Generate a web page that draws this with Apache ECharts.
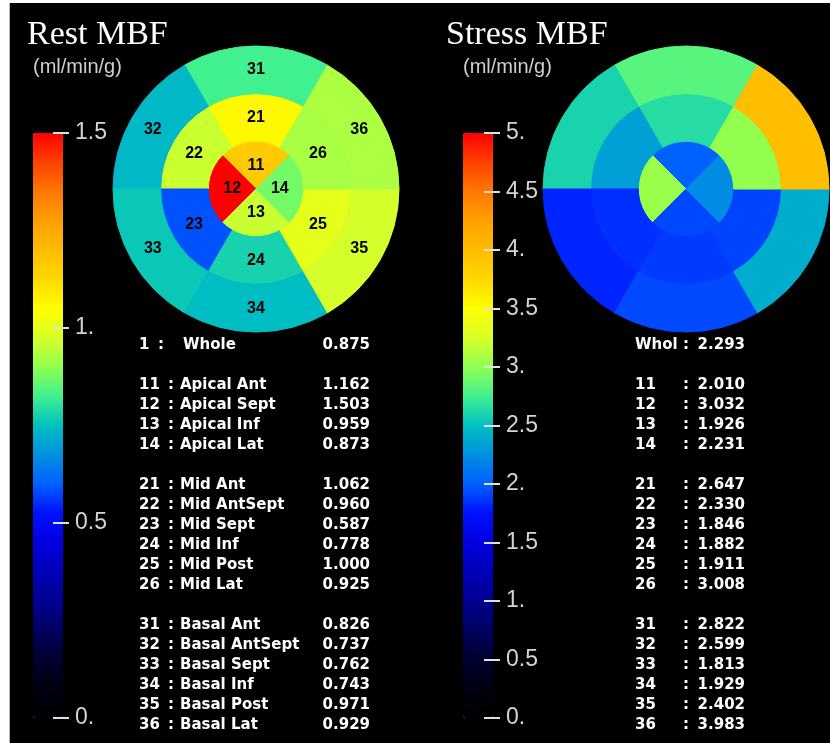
<!DOCTYPE html>
<html>
<head>
<meta charset="utf-8">
<script src="https://cdn.jsdelivr.net/npm/echarts@6/dist/echarts.min.js"></script>
<style>
  body { margin: 0; background: #fff; }
  #main { position: absolute; left: 9px; top: 3px; width: 820px; height: 740px; background: #000; border-left: 1px solid #bbb; }
</style>
</head>
<body>
<div id="main"></div>
<script>
// segment names, in id order (11-14, 21-26, 31-36)
var apicalNames = ['Ant', 'Sept', 'Inf', 'Lat'];
var ringNames = ['Ant', 'AntSept', 'Sept', 'Inf', 'Post', 'Lat'];
var apicalIds = ['11', '12', '13', '14'];
var midIds = ['21', '22', '23', '24', '25', '26'];
var basalIds = ['31', '32', '33', '34', '35', '36'];

// order of the segments round the bull's eye, clockwise
var apicalClockwise = ['Ant', 'Lat', 'Inf', 'Sept'];
var ringClockwise = ['Ant', 'Lat', 'Post', 'Inf', 'Sept', 'AntSept'];

// rest MBF (ml/min/g)
var restWhole = 0.875;
var restApical = [1.162, 1.503, 0.959, 0.873];
var restMid = [1.062, 0.960, 0.587, 0.778, 1.000, 0.925];
var restBasal = [0.826, 0.737, 0.762, 0.743, 0.971, 0.929];

// stress MBF (ml/min/g)
var stressWhole = 2.293;
var stressApical = [2.010, 3.032, 1.926, 2.231];
var stressMid = [2.647, 2.330, 1.846, 1.882, 1.911, 3.008];
var stressBasal = [2.822, 2.599, 1.813, 1.929, 2.402, 3.983];

// colour bar tick labels
var restTicks = ['0.', '0.5', '1.', '1.5'];
var stressTicks = ['0.', '0.5', '1.', '1.5', '2.', '2.5', '3.', '3.5', '4.', '4.5', '5.'];

// colour map, black -> blue -> cyan -> green -> yellow -> red
var colorMap = ['#000000', '#000010', '#000030', '#000060', '#000090', '#0000b8', '#0000e0',
  '#0010ff', '#0060ff', '#0090e0', '#00c0c0', '#40f090', '#90ff50', '#d8ff28', '#ffff00',
  '#ffd800', '#ffbc00', '#ffa000', '#ff7800', '#ff4000', '#ff0000'];

var myChart = echarts.init(document.getElementById('main'));

var restCenter = [246, 186];
var stressCenter = [676, 186];
var R = 143;

function polarAxes(polarIndex, cats, start) {
  return {
    angle: { polarIndex: polarIndex, type: 'category', data: cats, startAngle: start, clockwise: true, show: false },
    radius: { polarIndex: polarIndex, type: 'value', min: 0, max: 3, show: false }
  };
}

// max = top of the colour scale, used for the seam-hiding border colour
function ring(polarIndex, names, ids, values, stack, showLabel, max) {
  return {
    type: 'bar',
    coordinateSystem: 'polar',
    polarIndex: polarIndex,
    stack: stack,
    barCategoryGap: '0%',
    encode: { radius: 0, angle: 1 },
    data: values.map(function (v, i) {
      return {
        name: ids ? ids[i] : '',
        value: [1, names[i], v],
        itemStyle: { borderWidth: 1, borderColor: echarts.color.lerp(Math.min(v / max, 1), colorMap) }
      };
    }),
    label: {
      show: !!showLabel,
      position: 'middle',
      rotate: 0,
      formatter: '{b}',
      color: '#000',
      fontWeight: 'bold',
      fontSize: 16,
      fontFamily: 'Liberation Sans'
    },
    silent: true
  };
}

function hole(polarIndex, stack) {
  return {
    type: 'bar', coordinateSystem: 'polar', polarIndex: polarIndex, stack: stack,
    barCategoryGap: '0%', encode: { radius: 0, angle: 1 },
    data: ringClockwise.map(function (n) { return [1, n, 0]; }),
    itemStyle: { color: 'transparent' }, silent: true
  };
}

var angleAxis = [], radiusAxis = [];
[[0, apicalClockwise, 135], [1, ringClockwise, 120], [2, apicalClockwise, 135], [3, ringClockwise, 120]].forEach(function (a) {
  var ax = polarAxes(a[0], a[1], a[2]);
  angleAxis.push(ax.angle);
  radiusAxis.push(ax.radius);
});

// table texts
var graphics = [];
var font = 'bold 15px "DejaVu Sans"';
function txt(x, y, s, align, f, color) {
  graphics.push({
    type: 'text', x: x, y: y, silent: true,
    style: { text: s, fill: color || '#fff', font: f || font, textAlign: align || 'left', textVerticalAlign: 'middle', verticalAlign: 'middle' }
  });
}
function rowY(i) { return 342 + 20 * i; }

txt(17, 32, 'Rest MBF', 'left', '34px "Liberation Serif"');
txt(436, 32, 'Stress MBF', 'left', '34px "Liberation Serif"');
txt(23, 64, '(ml/min/g)', 'left', '20px "Liberation Sans Narrow", "Liberation Sans"', '#cfcfcf');
txt(453, 64, '(ml/min/g)', 'left', '20px "Liberation Sans Narrow", "Liberation Sans"', '#cfcfcf');

txt(129, rowY(0), '1', 'left');
txt(148, rowY(0), ':', 'left');
txt(173, rowY(0), 'Whole', 'left');
txt(360, rowY(0), restWhole.toFixed(3), 'right');
txt(625, rowY(0), 'Whol', 'left');
txt(673, rowY(0), ':', 'left');
txt(735, rowY(0), stressWhole.toFixed(3), 'right');

var groups = [
  ['Apical', apicalIds, apicalNames, restApical, stressApical, 2],
  ['Mid', midIds, ringNames, restMid, stressMid, 7],
  ['Basal', basalIds, ringNames, restBasal, stressBasal, 14]
];
groups.forEach(function (g) {
  g[1].forEach(function (id, k) {
    var y = rowY(g[5] + k);
    txt(129, y, id, 'left');
    txt(158, y, ':', 'left');
    txt(170, y, g[0] + ' ' + g[2][k], 'left');
    txt(360, y, g[3][k].toFixed(3), 'right');
    txt(625, y, id, 'left');
    txt(673, y, ':', 'left');
    txt(735, y, g[4][k].toFixed(3), 'right');
  });
});

function tickAxis(gridIndex, max, labels) {
  return {
    gridIndex: gridIndex, type: 'value', position: 'right', min: 0, max: max, interval: 0.5,
    z: 10,
    axisLine: { show: false, onZero: false },
    splitLine: { show: false },
    axisTick: { show: true, inside: true, length: 16, lineStyle: { color: '#e0e0e0', width: 2 } },
    axisLabel: {
      margin: 6, color: '#d4d4d4', fontSize: 23,
      fontFamily: '"Liberation Sans Narrow", "Liberation Sans", sans-serif',
      formatter: function (v) { return labels[Math.round(v / 0.5)]; }
    }
  };
}

var option = {
  backgroundColor: '#000',
  animation: false,
  polar: [
    { center: restCenter, radius: R },
    { center: restCenter, radius: R },
    { center: stressCenter, radius: R },
    { center: stressCenter, radius: R }
  ],
  angleAxis: angleAxis,
  radiusAxis: radiusAxis,
  grid: [
    { left: 23, top: 130, width: 36, height: 585 },
    { left: 453, top: 130, width: 37, height: 585 }
  ],
  xAxis: [
    { gridIndex: 0, type: 'value', show: false },
    { gridIndex: 1, type: 'value', show: false }
  ],
  yAxis: [tickAxis(0, 1.5, restTicks), tickAxis(1, 5, stressTicks)],
  visualMap: [
    {
      type: 'continuous', min: 0, max: 1.5, dimension: 2, seriesIndex: [0, 2, 3],
      left: 23, top: 130, itemWidth: 30, itemHeight: 585, padding: 0,
      calculable: false, hoverLink: false, inRange: { color: colorMap }
    },
    {
      type: 'continuous', min: 0, max: 5, dimension: 2, seriesIndex: [4, 6, 7],
      left: 453, top: 130, itemWidth: 30, itemHeight: 585, padding: 0,
      calculable: false, hoverLink: false, inRange: { color: colorMap }
    }
  ],
  series: [
    ring(0, apicalNames, apicalIds, restApical, null, true, 1.5),
    hole(1, 'rest'),
    ring(1, ringNames, midIds, restMid, 'rest', true, 1.5),
    ring(1, ringNames, basalIds, restBasal, 'rest', true, 1.5),
    ring(2, apicalNames, null, stressApical, null, false, 5),
    hole(3, 'stress'),
    ring(3, ringNames, null, stressMid, 'stress', false, 5),
    ring(3, ringNames, null, stressBasal, 'stress', false, 5)
  ],
  graphic: graphics
};

myChart.setOption(option);
</script>
</body>
</html>
